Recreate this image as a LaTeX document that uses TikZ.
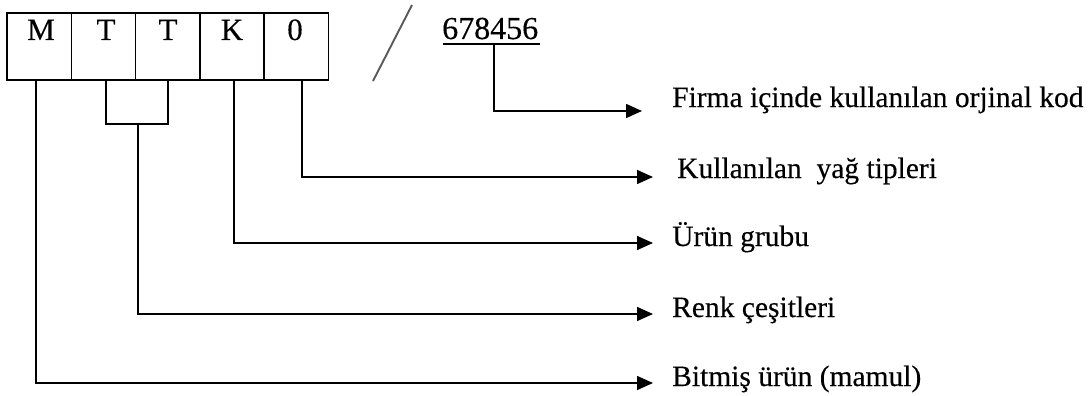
\documentclass[tikz,border=0pt]{standalone}
\usepackage{fontspec}
\setmainfont{Liberation Serif}
\newfontfamily\inked[FakeBold=0.3]{Liberation Serif}
\usetikzlibrary{arrows.meta,calc}

\tikzset{
  cell/.style={draw, line width=1.5pt, minimum width=64.3pt, minimum height=67pt, inner sep=0pt, outer sep=0pt},
  letter/.style={anchor=base, inner sep=0pt, font=\inked\fontsize{31}{36}\selectfont},
  desc/.style={anchor=base west, inner sep=0pt, font=\inked\fontsize{29.5}{35}\selectfont},
  link/.style={line width=1.5pt},
  arr/.style={line width=1.5pt, -{Triangle[length=16pt,width=14pt]}},
}

\begin{document}
\begin{tikzpicture}[x=1pt, y=-1pt]
\useasboundingbox (0,0) rectangle (1090,396);

% five-cell product code box
\node[cell] (c1) at (39.15,46.5) {};
\node[cell] (c2) at (103.45,46.5) {};
\node[cell] (c3) at (167.75,46.5) {};
\node[cell] (c4) at (232.05,46.5) {};
\node[cell] (c5) at (296.35,46.5) {};
\node[letter] (l1) at (41,40) {M};
\node[letter] (l2) at (106,40) {T};
\node[letter] (l3) at (168,40) {T};
\node[letter] (l4) at (232,40) {K};
\node[letter] (l5) at (295,40) {0};

% separator slash and original code
\draw[line width=1.9pt, black!65] (412,5) -- (373,81);
\node[anchor=base west, inner sep=0pt, font=\inked\fontsize{32}{36}\selectfont] (num) at (442,39) {678456};
\coordinate (ulL) at (443,44);
\coordinate (ulR) at (540,44);
\coordinate (ulM) at (494,44);
\draw[link] (ulL) -- (ulR);

% arrow tips and their descriptions
\coordinate (a1) at (642,111);
\coordinate (a2) at (653,177);
\coordinate (a3) at (653,243);
\coordinate (a4) at (653,314);
\coordinate (a5) at (653,383);
\node[desc] (t1) at (672,107) {Firma içinde kullanılan orjinal kod};
\node[desc] (t2) at (677,178) {Kullanılan~~yağ tipleri};
\node[desc] (t3) at (672,246) {Ürün grubu};
\node[desc] (t4) at (672,317) {Renk çeşitleri};
\node[desc] (t5) at (672,386) {Bitmiş ürün (mamul)};

% bracket joining the two T cells
\coordinate (br) at (138,124);
\draw[link] ([xshift=2.5pt]c2.south) |- (br) -| (c3.south);

% connectors
\draw[arr] (ulM) |- (a1);
\draw[arr] ([xshift=5.5pt]c5.south) |- (a2);
\draw[arr] ([xshift=2pt]c4.south) |- (a3);
\draw[arr] (br) |- (a4);
\draw[arr] ([xshift=-3pt]c1.south) |- (a5);
\end{tikzpicture}
\end{document}
